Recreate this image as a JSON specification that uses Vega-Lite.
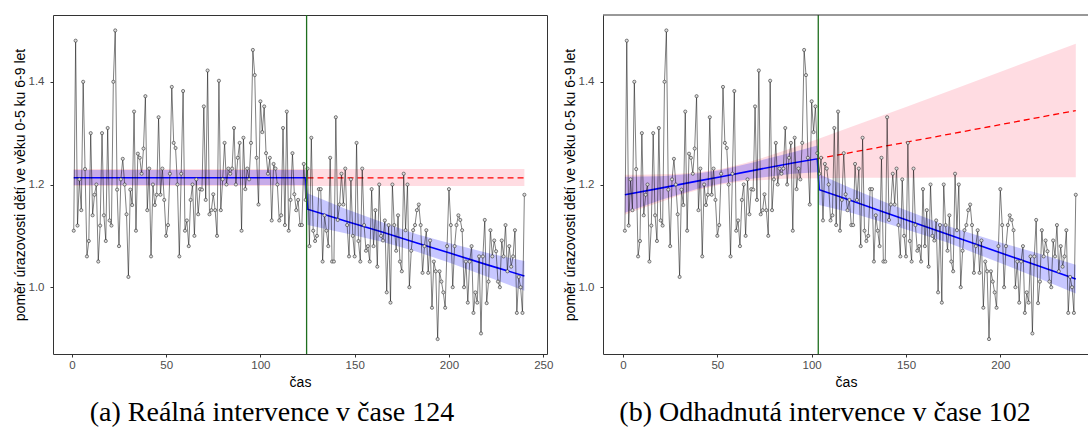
{
  "$schema": "https://vega.github.io/schema/vega-lite/v6.json",
  "background": "white",
  "padding": {"left": 12, "top": 13, "right": 0, "bottom": 0},
  "spacing": 56,
  "bounds": "flush",
  "config": {
    "axis": {"labelFont": "Liberation Sans", "labelFontSize": 11.5, "labelColor": "#4D4D4D", "titleFont": "Liberation Sans", "titleFontSize": 14, "titleFontWeight": "normal", "titleColor": "#000000", "tickColor": "#333333", "tickSize": 3, "grid": false, "domainColor": "#333333", "labelFlush": false},
    "title": {"font": "Liberation Serif", "fontSize": 28, "fontWeight": "normal", "color": "#000000", "orient": "bottom", "offset": 9}
  },
  "datasets": {
    "series": [
      {"t":1,"y":1.11},{"t":2,"y":1.48},{"t":3,"y":1.12},{"t":4,"y":1.21},{"t":5,"y":1.15},{"t":6,"y":1.40},{"t":7,"y":1.23},{"t":8,"y":1.06},{"t":9,"y":1.09},{"t":10,"y":1.30},
      {"t":11,"y":1.14},{"t":12,"y":1.18},{"t":13,"y":1.20},{"t":14,"y":1.05},{"t":15,"y":1.12},{"t":16,"y":1.30},{"t":17,"y":1.14},{"t":18,"y":1.09},{"t":19,"y":1.31},{"t":20,"y":1.13},
      {"t":21,"y":1.12},{"t":22,"y":1.40},{"t":23,"y":1.50},{"t":24,"y":1.19},{"t":25,"y":1.08},{"t":26,"y":1.21},{"t":27,"y":1.25},{"t":28,"y":1.20},{"t":29,"y":1.142},{"t":30,"y":1.02},
      {"t":31,"y":1.19},{"t":32,"y":1.16},{"t":33,"y":1.342},{"t":34,"y":1.11},{"t":35,"y":1.26},{"t":36,"y":1.252},{"t":37,"y":1.221},{"t":38,"y":1.27},{"t":39,"y":1.372},{"t":40,"y":1.15},
      {"t":41,"y":1.231},{"t":42,"y":1.06},{"t":43,"y":1.20},{"t":44,"y":1.16},{"t":45,"y":1.18},{"t":46,"y":1.331},{"t":47,"y":1.18},{"t":48,"y":1.231},{"t":49,"y":1.17},{"t":50,"y":1.10},
      {"t":51,"y":1.121},{"t":52,"y":1.221},{"t":53,"y":1.39},{"t":54,"y":1.281},{"t":55,"y":1.271},{"t":56,"y":1.20},{"t":57,"y":1.06},{"t":58,"y":1.221},{"t":59,"y":1.382},{"t":60,"y":1.11},
      {"t":61,"y":1.13},{"t":62,"y":1.08},{"t":63,"y":1.17},{"t":64,"y":1.20},{"t":65,"y":1.10},{"t":66,"y":1.21},{"t":67,"y":1.142},{"t":68,"y":1.191},{"t":69,"y":1.19},{"t":70,"y":1.352},
      {"t":71,"y":1.17},{"t":72,"y":1.422},{"t":73,"y":1.142},{"t":74,"y":1.15},{"t":75,"y":1.181},{"t":76,"y":1.15},{"t":77,"y":1.10},{"t":78,"y":1.402},{"t":79,"y":1.15},{"t":80,"y":1.21},
      {"t":81,"y":1.281},{"t":82,"y":1.20},{"t":83,"y":1.231},{"t":84,"y":1.221},{"t":85,"y":1.231},{"t":86,"y":1.31},{"t":87,"y":1.20},{"t":88,"y":1.252},{"t":89,"y":1.281},{"t":90,"y":1.11},
      {"t":91,"y":1.291},{"t":92,"y":1.191},{"t":93,"y":1.231},{"t":94,"y":1.21},{"t":95,"y":1.281},{"t":96,"y":1.462},{"t":97,"y":1.413},{"t":98,"y":1.252},{"t":99,"y":1.161},{"t":100,"y":1.362},
      {"t":101,"y":1.302},{"t":102,"y":1.352},{"t":103,"y":1.261},{"t":104,"y":1.221},{"t":105,"y":1.252},{"t":106,"y":1.13},{"t":107,"y":1.24},{"t":108,"y":1.231},{"t":109,"y":1.20},{"t":110,"y":1.13},
      {"t":111,"y":1.14},{"t":112,"y":1.31},{"t":113,"y":1.121},{"t":114,"y":1.342},{"t":115,"y":1.11},{"t":116,"y":1.17},{"t":117,"y":1.261},{"t":118,"y":1.181},{"t":119,"y":1.15},{"t":120,"y":1.17},
      {"t":121,"y":1.121},{"t":122,"y":1.121},{"t":123,"y":1.24},{"t":124,"y":1.17},{"t":125,"y":1.231},{"t":126,"y":1.08},{"t":127,"y":1.291},{"t":128,"y":1.11},{"t":129,"y":1.09},{"t":130,"y":1.10},
      {"t":131,"y":1.191},{"t":132,"y":1.191},{"t":133,"y":1.05},{"t":134,"y":1.14},{"t":135,"y":1.11},{"t":136,"y":1.08},{"t":137,"y":1.252},{"t":138,"y":1.05},{"t":139,"y":1.05},{"t":140,"y":1.331},
      {"t":141,"y":1.131},{"t":142,"y":1.161},{"t":143,"y":1.221},{"t":144,"y":1.161},{"t":145,"y":1.231},{"t":146,"y":1.121},{"t":147,"y":1.06},{"t":148,"y":1.21},{"t":149,"y":1.10},{"t":150,"y":1.06},
      {"t":151,"y":1.281},{"t":152,"y":1.09},{"t":153,"y":1.05},{"t":154,"y":1.231},{"t":155,"y":1.121},{"t":156,"y":1.071},{"t":157,"y":1.08},{"t":158,"y":1.05},{"t":159,"y":1.191},{"t":160,"y":1.08},
      {"t":161,"y":1.15},{"t":162,"y":1.04},{"t":163,"y":1.20},{"t":164,"y":1.10},{"t":165,"y":1.091},{"t":166,"y":1.13},{"t":167,"y":0.99},{"t":168,"y":1.121},{"t":169,"y":0.97},{"t":170,"y":1.20},
      {"t":171,"y":1.121},{"t":172,"y":1.071},{"t":173,"y":1.14},{"t":174,"y":1.05},{"t":175,"y":1.031},{"t":176,"y":1.221},{"t":177,"y":1.111},{"t":178,"y":1.20},{"t":179,"y":1.00},{"t":180,"y":1.071},
      {"t":181,"y":1.111},{"t":182,"y":1.121},{"t":183,"y":1.15},{"t":184,"y":1.161},{"t":185,"y":1.121},{"t":186,"y":1.028},{"t":187,"y":1.08},{"t":188,"y":1.111},{"t":189,"y":1.028},{"t":190,"y":1.091},
      {"t":191,"y":0.96},{"t":192,"y":1.05},{"t":193,"y":1.031},{"t":194,"y":0.899},{"t":195,"y":1.031},{"t":196,"y":1.011},{"t":197,"y":0.99},{"t":198,"y":0.96},{"t":199,"y":1.08},{"t":200,"y":1.191},
      {"t":201,"y":1.121},{"t":202,"y":1.00},{"t":203,"y":1.08},{"t":204,"y":1.121},{"t":205,"y":1.14},{"t":206,"y":1.131},{"t":207,"y":1.111},{"t":208,"y":1.00},{"t":209,"y":1.05},{"t":210,"y":0.97},
      {"t":211,"y":1.05},{"t":212,"y":1.08},{"t":213,"y":0.95},{"t":214,"y":0.99},{"t":215,"y":0.97},{"t":216,"y":1.06},{"t":217,"y":0.91},{"t":218,"y":1.06},{"t":219,"y":1.131},{"t":220,"y":0.969},
      {"t":221,"y":1.011},{"t":222,"y":1.111},{"t":223,"y":1.06},{"t":224,"y":1.091},{"t":225,"y":1.07},{"t":226,"y":1.011},{"t":227,"y":1.00},{"t":228,"y":1.091},{"t":229,"y":1.06},{"t":230,"y":1.121},
      {"t":231,"y":1.031},{"t":232,"y":1.08},{"t":233,"y":1.04},{"t":234,"y":1.06},{"t":235,"y":1.111},{"t":236,"y":0.95},{"t":237,"y":1.02},{"t":238,"y":1.00},{"t":239,"y":0.95},{"t":240,"y":1.18}
    ],
    "fitA": [
      {"t":1,"fit":1.213,"lo":1.199,"hi":1.228},{"t":124,"fit":1.213,"lo":1.199,"hi":1.228},
      {"t":125,"fit":1.152,"lo":1.121,"hi":1.183},{"t":145,"fit":1.129,"lo":1.105,"hi":1.153},{"t":165,"fit":1.107,"lo":1.088,"hi":1.126},
      {"t":183,"fit":1.086,"lo":1.069,"hi":1.103},{"t":200,"fit":1.067,"lo":1.048,"hi":1.086},{"t":220,"fit":1.044,"lo":1.021,"hi":1.067},{"t":240,"fit":1.022,"lo":0.993,"hi":1.051}
    ],
    "pinkA": [{"t":1,"lo":1.197,"hi":1.230},{"t":240,"lo":1.197,"hi":1.230}],
    "cfA": [{"t":125,"v":1.213},{"t":240,"v":1.213}],
    "fitB": [
      {"t":1,"fit":1.180,"lo":1.145,"hi":1.215},{"t":20,"fit":1.193,"lo":1.170,"hi":1.216},{"t":40,"fit":1.207,"lo":1.192,"hi":1.222},
      {"t":52,"fit":1.215,"lo":1.202,"hi":1.228},{"t":70,"fit":1.228,"lo":1.212,"hi":1.244},{"t":90,"fit":1.242,"lo":1.221,"hi":1.263},
      {"t":103,"fit":1.250,"lo":1.224,"hi":1.276},{"t":104,"fit":1.190,"lo":1.160,"hi":1.220},{"t":120,"fit":1.170,"lo":1.146,"hi":1.194},
      {"t":140,"fit":1.144,"lo":1.124,"hi":1.164},{"t":172,"fit":1.103,"lo":1.087,"hi":1.119},{"t":200,"fit":1.067,"lo":1.047,"hi":1.087},
      {"t":220,"fit":1.042,"lo":1.018,"hi":1.066},{"t":240,"fit":1.016,"lo":0.988,"hi":1.044}
    ],
    "pinkB": [
      {"t":1,"lo":1.141,"hi":1.219},{"t":10,"lo":1.154,"hi":1.219},{"t":20,"lo":1.166,"hi":1.220},{"t":30,"lo":1.179,"hi":1.221},
      {"t":40,"lo":1.190,"hi":1.224},{"t":52,"lo":1.200,"hi":1.230},{"t":65,"lo":1.207,"hi":1.242},{"t":75,"lo":1.209,"hi":1.253},
      {"t":85,"lo":1.211,"hi":1.265},{"t":95,"lo":1.212,"hi":1.278},{"t":103,"lo":1.212,"hi":1.288},{"t":120,"lo":1.213,"hi":1.311},
      {"t":150,"lo":1.213,"hi":1.351},{"t":180,"lo":1.214,"hi":1.392},{"t":210,"lo":1.214,"hi":1.433},{"t":240,"lo":1.214,"hi":1.474}
    ],
    "cfB": [{"t":103,"v":1.250},{"t":240,"v":1.344}],
    "one": [{}]
  },
  "hconcat": [
    {
      "width": 494,
      "height": 339,
      "view": {"stroke": "#333333", "strokeWidth": 1},
      "title": {"text": "(a) Reálná intervence v čase 124", "dx": -28, "font": "Liberation Serif", "fontSize": 28},
      "layer": [
        {"data": {"name": "pinkA"}, "mark": {"type": "area", "color": "#FFC0CB", "opacity": 0.55},
         "encoding": {
           "x": {"field": "t", "type": "quantitative", "scale": {"domain": [-10, 252], "nice": false, "zero": false},
                 "axis": {"title": "čas", "values": [0, 50, 100, 150, 200, 250], "format": "d", "domain": false, "labelPadding": 2, "titlePadding": 5}},
           "y": {"field": "lo", "type": "quantitative", "scale": {"domain": [0.87, 1.53], "nice": false, "zero": false},
                 "axis": {"title": "poměr úrazovosti dětí ve věku 0-5 ku 6-9 let", "values": [1.0, 1.2, 1.4], "format": ".1f", "domain": false, "labelPadding": 6, "titlePadding": 1}},
           "y2": {"field": "hi"}}},
        {"data": {"name": "fitA"}, "mark": {"type": "area", "color": "#0000FF", "opacity": 0.22},
         "encoding": {"x": {"field": "t", "type": "quantitative"}, "y": {"field": "lo", "type": "quantitative"}, "y2": {"field": "hi"}}},
        {"data": {"name": "fitA"}, "mark": {"type": "line", "color": "#0000FF", "strokeWidth": 1.6},
         "encoding": {"x": {"field": "t", "type": "quantitative"}, "y": {"field": "fit", "type": "quantitative"}}},
        {"data": {"name": "cfA"}, "mark": {"type": "line", "color": "#FF0000", "strokeWidth": 1.3, "strokeDash": [6, 4]},
         "encoding": {"x": {"field": "t", "type": "quantitative"}, "y": {"field": "v", "type": "quantitative"}}},
        {"data": {"name": "series"}, "mark": {"type": "line", "color": "#000000", "strokeWidth": 0.5},
         "encoding": {"x": {"field": "t", "type": "quantitative"}, "y": {"field": "y", "type": "quantitative"}}},
        {"data": {"name": "series"}, "mark": {"type": "point", "shape": "circle", "filled": true, "fill": "#DDDDDD", "fillOpacity": 1, "stroke": "#333333", "strokeWidth": 0.6, "size": 10},
         "encoding": {"x": {"field": "t", "type": "quantitative"}, "y": {"field": "y", "type": "quantitative"}}},
        {"data": {"name": "one"}, "mark": {"type": "rule", "color": "#1E6E1E", "strokeWidth": 1.3},
         "encoding": {"x": {"datum": 124.5, "type": "quantitative"}}}
      ]
    },
    {
      "width": 486,
      "height": 339,
      "view": {"stroke": null},
      "title": {"text": "(b) Odhadnutá intervence v čase 102", "dx": -21, "font": "Liberation Serif", "fontSize": 28},
      "layer": [
        {"data": {"name": "pinkB"}, "mark": {"type": "area", "color": "#FFC0CB", "opacity": 0.55},
         "encoding": {
           "x": {"field": "t", "type": "quantitative", "scale": {"domain": [-10.6, 247], "nice": false, "zero": false},
                 "axis": {"title": "čas", "values": [0, 50, 100, 150, 200], "format": "d", "domain": true, "labelPadding": 2, "titlePadding": 5}},
           "y": {"field": "lo", "type": "quantitative", "scale": {"domain": [0.87, 1.53], "nice": false, "zero": false},
                 "axis": {"title": "poměr úrazovosti dětí ve věku 0-5 ku 6-9 let", "values": [1.0, 1.2, 1.4], "format": ".1f", "domain": true, "labelPadding": 6, "titlePadding": 1}},
           "y2": {"field": "hi"}}},
        {"data": {"name": "fitB"}, "mark": {"type": "area", "color": "#0000FF", "opacity": 0.22},
         "encoding": {"x": {"field": "t", "type": "quantitative"}, "y": {"field": "lo", "type": "quantitative"}, "y2": {"field": "hi"}}},
        {"data": {"name": "fitB"}, "mark": {"type": "line", "color": "#0000FF", "strokeWidth": 1.6},
         "encoding": {"x": {"field": "t", "type": "quantitative"}, "y": {"field": "fit", "type": "quantitative"}}},
        {"data": {"name": "cfB"}, "mark": {"type": "line", "color": "#FF0000", "strokeWidth": 1.3, "strokeDash": [6, 4]},
         "encoding": {"x": {"field": "t", "type": "quantitative"}, "y": {"field": "v", "type": "quantitative"}}},
        {"data": {"name": "series"}, "mark": {"type": "line", "color": "#000000", "strokeWidth": 0.5},
         "encoding": {"x": {"field": "t", "type": "quantitative"}, "y": {"field": "y", "type": "quantitative"}}},
        {"data": {"name": "series"}, "mark": {"type": "point", "shape": "circle", "filled": true, "fill": "#DDDDDD", "fillOpacity": 1, "stroke": "#333333", "strokeWidth": 0.6, "size": 10},
         "encoding": {"x": {"field": "t", "type": "quantitative"}, "y": {"field": "y", "type": "quantitative"}}},
        {"data": {"name": "one"}, "mark": {"type": "rule", "color": "#1E6E1E", "strokeWidth": 1.3},
         "encoding": {"x": {"datum": 103.5, "type": "quantitative"}}},
        {"data": {"name": "one"}, "mark": {"type": "rule", "color": "#333333", "strokeWidth": 1},
         "encoding": {"y": {"datum": 1.53, "type": "quantitative"}}}
      ]
    }
  ]
}
